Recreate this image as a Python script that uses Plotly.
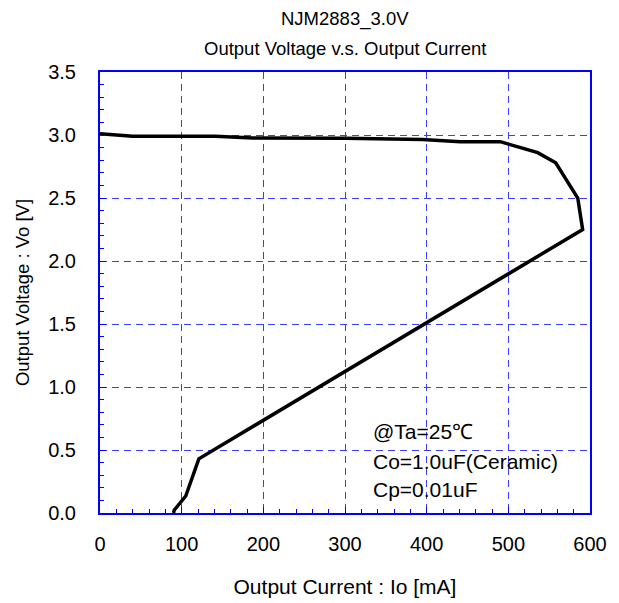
import plotly.graph_objects as go

# curve (Io in mA, Vo in V)
current_ma = [0, 40, 141, 187, 300, 395, 441, 490, 536, 558, 585, 591, 121, 105, 91, 90]
voltage_v = [3.01, 2.99, 2.99, 2.976, 2.975, 2.965, 2.947, 2.947, 2.86, 2.78, 2.50, 2.25, 0.43, 0.135, 0.024, 0.0]

x_ticks = [0, 100, 200, 300, 400, 500, 600]
y_ticks = [0.0, 0.5, 1.0, 1.5, 2.0, 2.5, 3.0, 3.5]
notes = ["@Ta=25℃", "Co=1.0uF(Ceramic)", "Cp=0.01uF"]
note_y = [0.643, 0.405, 0.183]

FONT = "Arial, Liberation Sans, sans-serif"
BLUE = "#0000FF"
GRID = "#3c3cff"

fig = go.Figure()
fig.add_trace(go.Scatter(
    x=current_ma, y=voltage_v, mode="lines",
    line=dict(color="black", width=3.5), showlegend=False,
))

for txt, yv in zip(notes, note_y):
    fig.add_annotation(x=332, y=yv, text=txt, showarrow=False, xanchor="left",
                       yanchor="middle", font=dict(size=21, color="black", family=FONT))

# two-line title, placed by hand above the frame
fig.add_annotation(x=0.5, y=1, xref="paper", yref="paper", yshift=53, yanchor="middle",
                   text="NJM2883_3.0V",
                   showarrow=False, font=dict(size=18.5, color="black", family=FONT))
fig.add_annotation(x=0.5, y=1, xref="paper", yref="paper", yshift=24, yanchor="middle",
                   text="Output Voltage v.s. Output Current",
                   showarrow=False, font=dict(size=18.5, color="black", family=FONT))

axis_common = dict(
    showline=True, linecolor=BLUE, linewidth=2, mirror=True,
    showgrid=True, gridcolor=GRID, gridwidth=1, griddash="7px,5px",
    zeroline=False, ticks="inside", ticklen=6, tickcolor=BLUE, tickwidth=1,
    tickfont=dict(size=20, color="black", family=FONT),
)

fig.update_xaxes(
    range=[0, 600], tickvals=x_ticks, ticklabelstandoff=12,
    minor=dict(dtick=20, ticks="inside", ticklen=4, tickcolor=BLUE, showgrid=False),
    title=dict(text="Output Current : Io [mA]", standoff=25,
               font=dict(size=21, color="black", family=FONT)),
    **axis_common,
)
fig.update_yaxes(
    range=[0, 3.5], tickvals=y_ticks, tickformat=".1f", ticklabelstandoff=18,
    minor=dict(dtick=0.1, ticks="inside", ticklen=4, tickcolor=BLUE, showgrid=False),
    title=dict(text="Output Voltage : Vo [V]", standoff=14,
               font=dict(size=18.5, color="black", family=FONT)),
    **axis_common,
)

# page body adds an 8px offset, so margins are shifted to compensate
fig.update_layout(
    width=619, height=603,
    margin=dict(l=92, r=37, t=64, b=98),
    plot_bgcolor="white", paper_bgcolor="white",
    font=dict(family=FONT, color="black"),
)

fig.write_html("out.html")
